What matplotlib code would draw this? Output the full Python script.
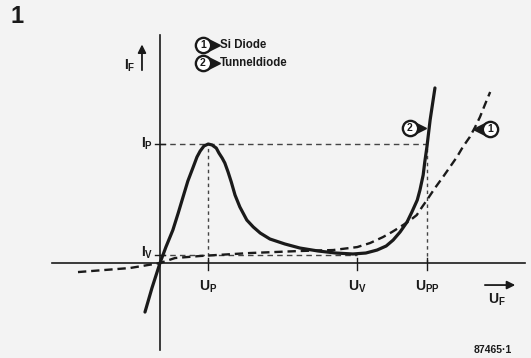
import numpy as np
import matplotlib
matplotlib.use("Agg")
import matplotlib.pyplot as plt

plt.rcParams['font.family'] = ['Liberation Sans', 'DejaVu Sans']
plt.rcParams['mathtext.fontset'] = 'custom'
plt.rcParams['mathtext.rm'] = 'Liberation Sans:bold'
plt.rcParams['lines.scale_dashes'] = False

# characteristic points (U in V, I relative to I_P)
U_P, U_V, U_PP = 0.090, 0.368, 0.498
I_P, I_V = 1.0, 0.067

# tunnel diode (solid)
tunnel_u = [-0.028, -0.015, 0.0, 0.011, 0.024, 0.034, 0.043, 0.052, 0.062, 0.069,
            0.075, 0.082, 0.090, 0.097, 0.105, 0.110, 0.116, 0.121, 0.127, 0.133,
            0.140, 0.149, 0.162, 0.174, 0.187, 0.205, 0.233, 0.261, 0.295, 0.328,
            0.360, 0.384, 0.405, 0.422, 0.435, 0.448, 0.461, 0.470, 0.480, 0.485,
            0.491, 0.494, 0.498, 0.504, 0.513]
tunnel_i = [-0.412, -0.210, 0.0, 0.134, 0.277, 0.420, 0.555, 0.689, 0.807, 0.891,
            0.941, 0.983, 1.000, 0.992, 0.966, 0.924, 0.882, 0.840, 0.765, 0.681,
            0.571, 0.471, 0.361, 0.303, 0.252, 0.202, 0.160, 0.126, 0.101, 0.084,
            0.076, 0.084, 0.109, 0.143, 0.193, 0.261, 0.345, 0.429, 0.529, 0.613,
            0.739, 0.849, 0.975, 1.202, 1.471]

# Si diode (dashed)
si_u = [-0.153, -0.056, 0.0, 0.028, 0.075, 0.168, 0.261, 0.323, 0.368, 0.392,
        0.416, 0.433, 0.448, 0.465, 0.479, 0.489, 0.498, 0.513, 0.528, 0.541,
        0.554, 0.565, 0.578, 0.588, 0.597, 0.606, 0.616]
si_i = [-0.076, -0.042, 0.0, 0.042, 0.059, 0.084, 0.101, 0.109, 0.134, 0.168,
        0.218, 0.261, 0.303, 0.353, 0.403, 0.471, 0.529, 0.630, 0.723, 0.807,
        0.891, 0.975, 1.059, 1.143, 1.227, 1.328, 1.437]

legend_labels = ['Si Diode', 'Tunneldiode']
bg = '#f3f3f3'
ink = '#1a1a1a'

fig = plt.figure(figsize=(5.31, 3.58), dpi=100, facecolor=bg)
ax = fig.add_axes([0, 0, 1, 1])
ax.set_facecolor(bg)
ax.set_xlim(-0.2985, 0.6922)
ax.set_ylim(-0.798, 2.210)
ax.axis('off')

# axes lines
ax.plot([-0.2015, 0.681], [0, 0], color=ink, lw=1.2)
ax.plot([0, 0], [-0.731, 1.916], color=ink, lw=1.2)

# guide lines
guide = dict(color='#444444', lw=1.0, dashes=(4, 3))
ax.plot([0, U_PP], [I_P, I_P], **guide)
ax.plot([0, U_V], [I_V, I_V], **guide)
ax.plot([U_P, U_P], [0, I_P], color='#444444', lw=1.0, dashes=(2.5, 2.5))
ax.plot([U_PP, U_PP], [0, I_P], color='#444444', lw=1.0, dashes=(2.5, 2.5))

# ticks
for u in (U_P, U_V, U_PP):
    ax.plot([u, u], [-0.06, 0.04], color=ink, lw=1.0)
for i in (I_P, I_V):
    ax.plot([-0.009, 0.009], [i, i], color=ink, lw=1.0)

# curves
ax.plot(si_u, si_i, color=ink, lw=1.7, dashes=(6, 3.5))
ax.plot(tunnel_u, tunnel_i, color=ink, lw=2.3, solid_joinstyle='round',
        solid_capstyle='round')

# labels
lab = dict(fontsize=10, fontweight='bold', color=ink)
ax.text(-0.013, I_P, r'I$_\mathrm{P}$', ha='right', va='center', **lab)
ax.text(-0.013, I_V + 0.02, r'I$_\mathrm{V}$', ha='right', va='center', **lab)
ax.text(U_P, -0.13, r'U$_\mathrm{P}$', ha='center', va='top', **lab)
ax.text(U_V, -0.13, r'U$_\mathrm{V}$', ha='center', va='top', **lab)
ax.text(U_PP, -0.13, r'U$_\mathrm{PP}$', ha='center', va='top', **lab)
ax.text(0.629, -0.24, r'U$_\mathrm{F}$', ha='center', va='top', **lab)
ax.text(-0.046, 1.66, r'I$_\mathrm{F}$', ha='right', va='center', **lab)

# axis arrows
ax.annotate('', xy=(0.668, -0.185), xytext=(0.601, -0.185),
            arrowprops=dict(arrowstyle='-|>', color=ink, lw=1.3, mutation_scale=12))
ax.annotate('', xy=(-0.0336, 1.86), xytext=(-0.0336, 1.597),
            arrowprops=dict(arrowstyle='-|>', color=ink, lw=1.3, mutation_scale=12))


def tag(u, i, num, side):
    d = 0.02 if side == 'right' else -0.02
    ax.plot(u + d, i, marker='>' if side == 'right' else '<', ms=8, color=ink)
    ax.plot(u, i, marker='o', ms=11, mfc='white', mec=ink, mew=1.7)
    ax.text(u, i, num, ha='center', va='center', fontsize=7.5,
            fontweight='bold', color=ink)


# legend
for k, (yy, name) in enumerate(zip([1.832, 1.681], legend_labels)):
    tag(0.080, yy, str(k + 1), 'right')
    ax.text(0.112, yy, name, ha='left', va='center', fontsize=8.3,
            fontweight='bold', color=ink)

# curve markers
tag(0.466, 1.134, '2', 'right')
tag(0.616, 1.126, '1', 'left')

fig.text(0.02, 0.955, '1', fontsize=17, fontweight='bold', color=ink,
         ha='left', va='center')
fig.text(0.928, 0.023, '87465·1', fontsize=7.5, fontweight='bold', color=ink,
         ha='center', va='center')

fig.savefig('out.png', dpi=100, facecolor=bg)
